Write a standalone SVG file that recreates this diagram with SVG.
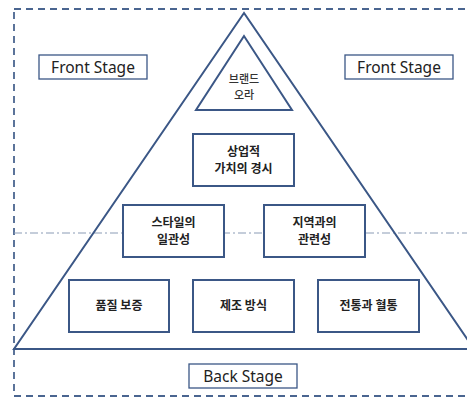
<svg xmlns="http://www.w3.org/2000/svg" width="467" height="399" viewBox="0 0 467 399">
<style>
.box{fill:#fff;stroke:#3b5786;stroke-width:2}
.lbl{fill:#fff;stroke:#3b5786;stroke-width:1.3}
.tri{fill:none;stroke:#3b5786;stroke-width:2}
.ko{font-family:"Noto Sans CJK KR","Noto Sans",sans-serif;font-size:12px;font-weight:bold;fill:#222;text-anchor:middle}
.ks{font-family:"Noto Sans CJK KR","Noto Sans",sans-serif;font-size:11px;font-weight:500;fill:#333;text-anchor:middle}
.en{font-family:"Noto Sans","Liberation Sans",sans-serif;font-size:15.5px;fill:#222;text-anchor:middle}
</style>
<rect width="467" height="399" fill="#fff"/>
<g id="frame">
<rect x="14" y="9" width="470" height="387" fill="none" stroke="#4a6590" stroke-width="1.8" stroke-dasharray="7,5"/>
</g>
<g id="connectors">
<line x1="14" y1="233" x2="467" y2="233" stroke="#8a9bb5" stroke-width="1" stroke-dasharray="8,3,2,3"/>
</g>
<g id="pyramid">
<polygon class="tri" points="244,13 14,349 474,349"/>
</g>
<g id="brand-aura">
<polygon class="tri" points="244,36 196,110 292,110"/>
<text class="ks" x="244" y="83">브랜드</text>
<text class="ks" x="244" y="99">오라</text>
</g>
<g id="front-left">
<rect class="lbl" x="39" y="55" width="108" height="24"/>
<text class="en" x="93" y="72.5">Front Stage</text>
</g>
<g id="front-right">
<rect class="lbl" x="345" y="55" width="108" height="24"/>
<text class="en" x="399" y="72.5">Front Stage</text>
</g>
<g id="commercial">
<rect class="box" x="193" y="134" width="101" height="52"/>
<text class="ko" x="243.5" y="156">상업적</text>
<text class="ko" x="243.5" y="173">가치의 경시</text>
</g>
<g id="style">
<rect class="box" x="123" y="205" width="101" height="52"/>
<text class="ko" x="173.5" y="227">스타일의</text>
<text class="ko" x="173.5" y="244">일관성</text>
</g>
<g id="region">
<rect class="box" x="264" y="205" width="101" height="52"/>
<text class="ko" x="314.5" y="227">지역과의</text>
<text class="ko" x="314.5" y="244">관련성</text>
</g>
<g id="quality">
<rect class="box" x="69" y="280" width="100" height="52"/>
<text class="ko" x="119" y="310">품질 보증</text>
</g>
<g id="method">
<rect class="box" x="193" y="280" width="101" height="52"/>
<text class="ko" x="243.5" y="310">제조 방식</text>
</g>
<g id="tradition">
<rect class="box" x="318" y="280" width="101" height="52"/>
<text class="ko" x="368.5" y="310">전통과 혈통</text>
</g>
<g id="back-stage">
<rect class="lbl" x="189" y="364" width="108" height="24"/>
<text class="en" x="243" y="381.5">Back Stage</text>
</g>
</svg>
